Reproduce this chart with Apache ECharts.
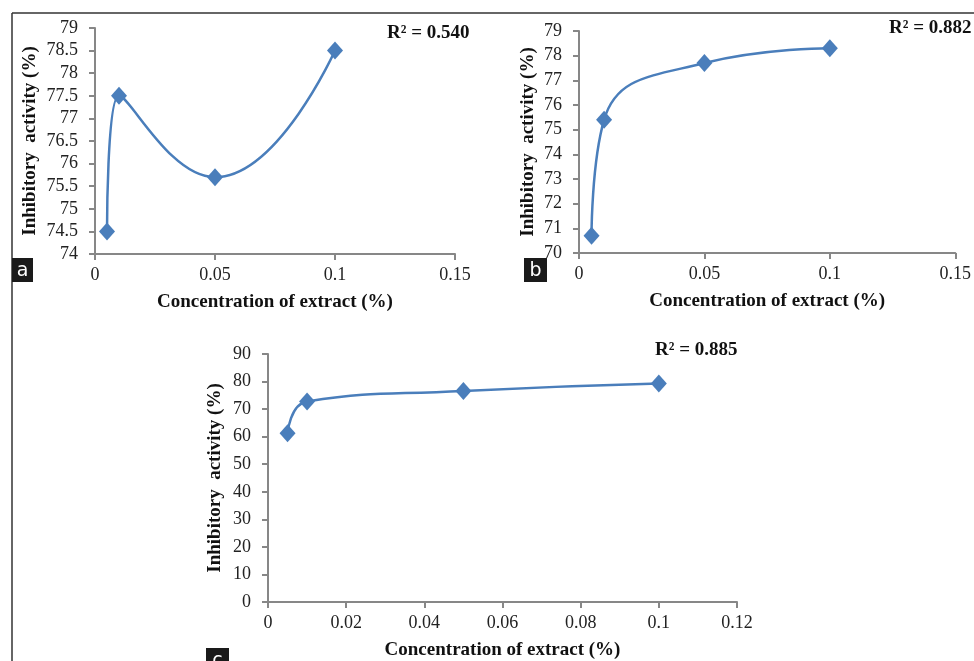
<!DOCTYPE html>
<html>
<head>
<meta charset="utf-8">
<script src="https://cdn.jsdelivr.net/npm/echarts@6/dist/echarts.min.js"></script>
<style>
  html, body { margin: 0; padding: 0; background: #fff; }
  #chart { width: 974px; height: 661px; }
</style>
</head>
<body>
<div id="chart"></div>
<script>
// concentrations (%) used in every panel
const concentrations = [0.005, 0.01, 0.05, 0.1];

// inhibitory activity (%) per panel
const activityA = [74.5, 77.5, 75.7, 78.5];
const activityB = [70.7, 75.4, 77.7, 78.3];
const activityC = [61.2, 72.8, 76.6, 79.3];

const r2Labels = ["R\u00b2 = 0.540", "R\u00b2 = 0.882", "R\u00b2 = 0.885"];
const panelLetters = ["a", "b", "c"];

// axis ranges [min, max, interval]
const xRangeAB = [0, 0.15, 0.05];
const xRangeC = [0, 0.12, 0.02];
const yRangeA = [74, 79, 0.5];
const yRangeB = [70, 79, 1];
const yRangeC = [0, 90, 10];

const xTitle = "Concentration of extract (%)";
const yTitle = "Inhibitory  activity (%)";

const serif = "Liberation Serif";
const blue = "#4a7ebb";
const axisGrey = "#878787";

const pairs = (xs, ys) => xs.map((x, i) => [x, ys[i]]);

const makeX = (gridIndex, range, gap) => ({
  type: "value",
  gridIndex,
  min: range[0],
  max: range[1],
  interval: range[2],
  name: xTitle,
  nameLocation: "middle",
  nameGap: gap,
  nameTextStyle: { fontFamily: serif, fontWeight: "bold", fontSize: 19, color: "#111" },
  axisLine: { show: true, onZero: false, lineStyle: { color: axisGrey, width: 2 } },
  axisTick: { show: true, length: 6, lineStyle: { color: axisGrey, width: 2 } },
  axisLabel: { fontFamily: serif, fontSize: 18, color: "#222", margin: 12 },
  splitLine: { show: false },
});

const makeY = (gridIndex, range, gap) => ({
  type: "value",
  gridIndex,
  min: range[0],
  max: range[1],
  interval: range[2],
  name: yTitle,
  nameLocation: "middle",
  nameGap: gap,
  nameTextStyle: { fontFamily: serif, fontWeight: "bold", fontSize: 19, color: "#111" },
  axisLine: { show: true, onZero: false, lineStyle: { color: axisGrey, width: 2 } },
  axisTick: { show: true, length: 6, lineStyle: { color: axisGrey, width: 2 } },
  axisLabel: { fontFamily: serif, fontSize: 18, color: "#222", margin: 17 },
  splitLine: { show: false },
});

const makeSeries = (index, ys) => ({
  type: "line",
  xAxisIndex: index,
  yAxisIndex: index,
  data: pairs(concentrations, ys),
  smooth: 0.5,
  symbol: "diamond",
  symbolSize: [16, 18],
  itemStyle: { color: blue },
  lineStyle: { color: blue, width: 2.5 },
  z: 3,
});

const r2Text = (x, y, text) => ({
  type: "text",
  x,
  y,
  style: {
    text,
    fontFamily: serif,
    fontWeight: "bold",
    fontSize: 19,
    fill: "#111",
    verticalAlign: "middle",
  },
});

const letterBox = (x, y, w, h, letter) => [
  { type: "rect", shape: { x, y, width: w, height: h }, style: { fill: "#1a1a1a" } },
  {
    type: "text",
    x: x + w / 2,
    y: y + h / 2 + 1,
    style: {
      text: letter,
      fontFamily: "DejaVu Sans",
      fontSize: 19,
      fill: "#fff",
      align: "center",
      verticalAlign: "middle",
    },
  },
];

const chart = echarts.init(document.getElementById("chart"));
chart.setOption({
  backgroundColor: "#fff",
  animation: false,
  grid: [
    { left: 95, top: 28, width: 360, height: 226 },
    { left: 579, top: 31, width: 377, height: 222 },
    { left: 268, top: 354, width: 469, height: 249 },
  ],
  xAxis: [makeX(0, xRangeAB, 39), makeX(1, xRangeAB, 39), makeX(2, xRangeC, 39)],
  yAxis: [makeY(0, yRangeA, 55), makeY(1, yRangeB, 41), makeY(2, yRangeC, 43)],
  series: [makeSeries(0, activityA), makeSeries(1, activityB), makeSeries(2, activityC)],
  graphic: [
    // figure frame (top and left edges)
    { type: "line", shape: { x1: 12, y1: 13, x2: 974, y2: 13 }, style: { stroke: "#333", lineWidth: 1.5 } },
    { type: "line", shape: { x1: 12, y1: 13, x2: 12, y2: 661 }, style: { stroke: "#333", lineWidth: 1.5 } },
    r2Text(387, 33, r2Labels[0]),
    r2Text(889, 28, r2Labels[1]),
    r2Text(655, 350, r2Labels[2]),
    ...letterBox(12, 258, 21, 24, panelLetters[0]),
    ...letterBox(524, 258, 23, 24, panelLetters[1]),
    ...letterBox(206, 648, 23, 24, panelLetters[2]),
  ],
});
</script>
</body>
</html>
